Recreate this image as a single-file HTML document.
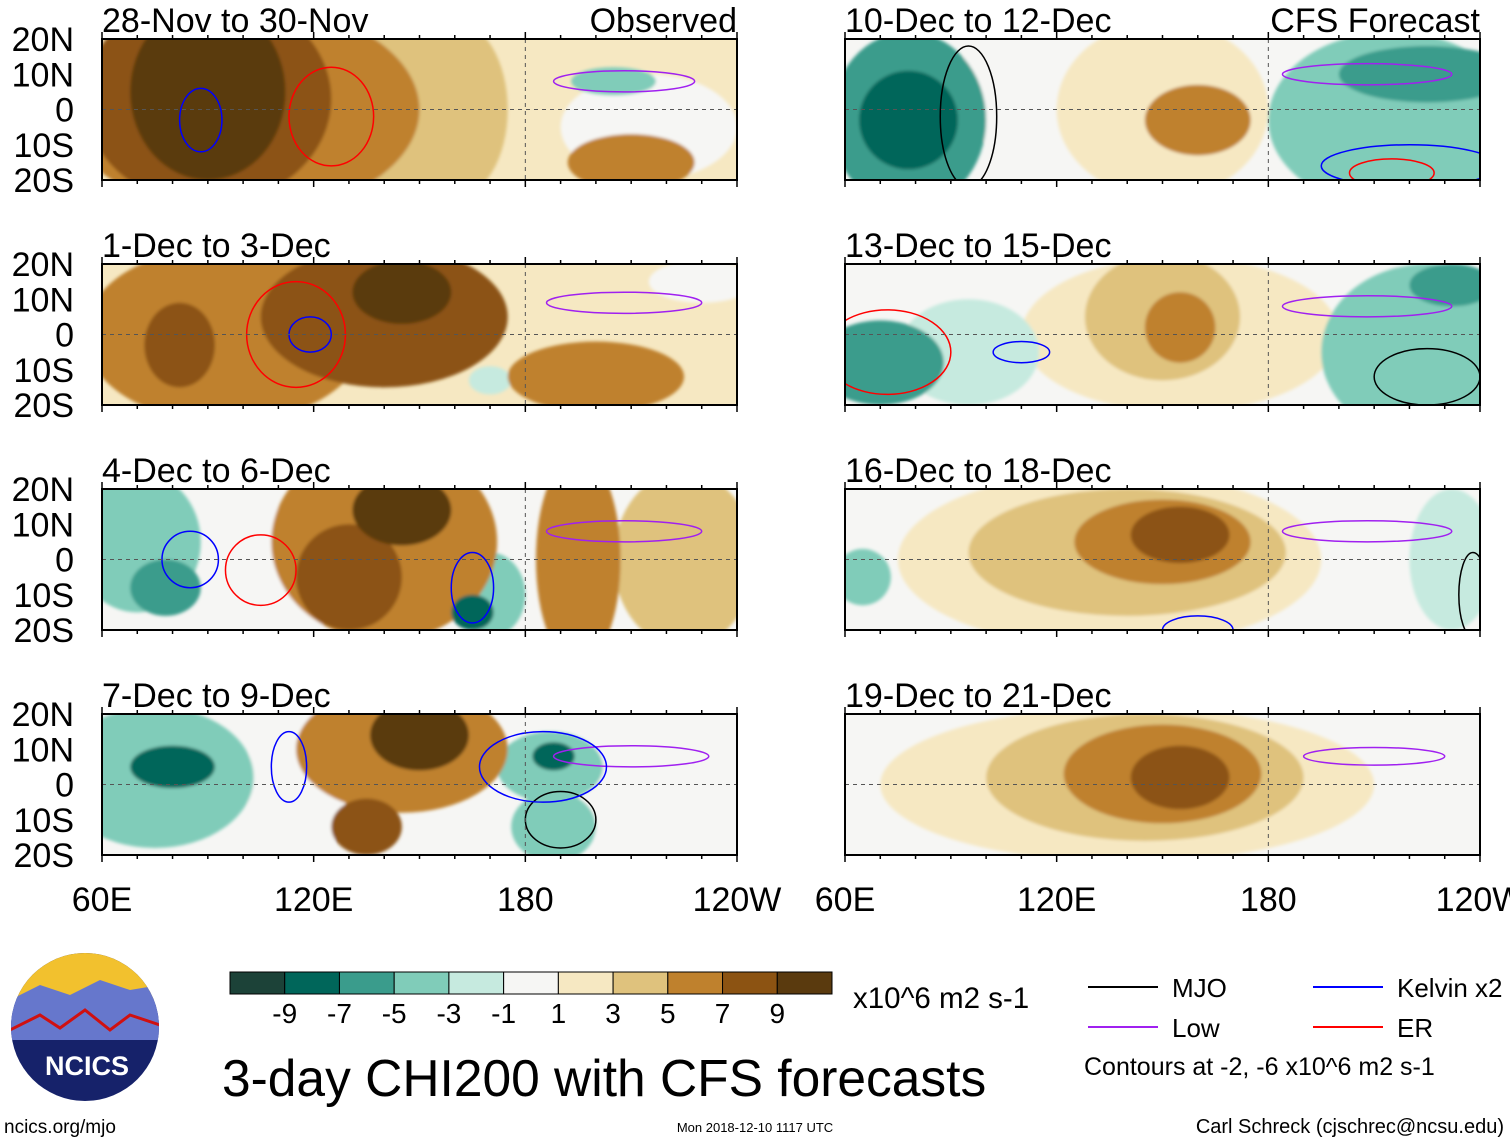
<!DOCTYPE html>
<html><head><meta charset="utf-8"><style>
body{margin:0;background:#fff;width:1510px;height:1142px;overflow:hidden;font-family:"Liberation Sans",sans-serif}
</style></head><body>
<svg id="fig" width="1510" height="1142" xmlns="http://www.w3.org/2000/svg" font-family="Liberation Sans, sans-serif"></svg>
<script>
const levels=[-9,-7,-5,-3,-1,1,3,5,7,9];
const colors=["#1c4238","#00665a","#3a9c8c","#80ccb9","#c6eadf","#f6f6f4","#f6e8c2","#dfc27d","#bf812d","#8c5312","#5a3a0e"];
const panelTitles=["28-Nov to 30-Nov","1-Dec to 3-Dec","4-Dec to 6-Dec","7-Dec to 9-Dec","10-Dec to 12-Dec","13-Dec to 15-Dec","16-Dec to 18-Dec","19-Dec to 21-Dec"];
const panelBase=[3,3,0,0,0,0,0,0];
// blobs: [lon, lat, rxDeg, ryDeg, value]
const blobs=[
[[100,0,50,30,6],[90,3,35,30,8],[90,5,22,25,10],[140,0,20,25,4],[160,0,15,25,4],[210,-15,18,8,6],[205,8,12,4,-3],[215,-5,25,15,1]],
[[95,0,40,25,6],[140,5,35,20,8],[145,12,14,9,10],[82,-3,10,12,8],[200,-12,25,10,6],[230,15,15,6,1],[170,-13,6,4,-2]],
[[70,5,18,20,-4],[78,-8,10,8,-6],[140,5,32,28,6],[145,14,14,10,10],[130,-5,15,15,8],[195,0,12,30,6],[170,-10,10,12,-4],[165,-15,6,5,-8],[225,0,20,25,4],[118,0,12,20,1]],
[[75,2,28,20,-4],[80,5,12,6,-8],[145,10,30,18,6],[150,14,14,10,10],[135,-12,10,8,8],[187,5,15,10,-4],[188,8,6,4,-8],[188,-12,12,10,-4],[115,0,14,25,1],[220,0,25,25,1]],
[[78,-3,22,25,-6],[78,-3,14,14,-8],[150,0,30,25,2],[160,-3,15,10,6],[215,-3,35,25,-4],[225,10,25,8,-6],[105,5,15,15,1]],
[[155,0,45,22,2],[150,5,22,18,4],[155,2,10,10,6],[70,-8,18,12,-6],[225,-5,30,25,-4],[232,14,12,6,-6],[95,-5,20,15,-2]],
[[135,0,60,25,2],[140,2,45,18,4],[150,5,25,12,6],[155,7,14,8,8],[65,-5,8,8,-4],[232,0,12,20,-2]],
[[140,0,70,22,2],[145,2,45,18,4],[150,3,28,14,6],[155,2,14,9,8],[205,15,5,3,1]]
];
// contours: [lon, lat, rxDeg, ryDeg, color]
const contours=[
[[208,8,20,3,"#a020f0"],[88,-3,6,9,"#0000ff"],[125,-2,12,14,"#ff0000"]],
[[208,9,22,3,"#a020f0"],[119,0,6,5,"#0000ff"],[115,0,14,15,"#ff0000"]],
[[208,8,22,3,"#a020f0"],[85,0,8,8,"#0000ff"],[105,-3,10,10,"#ff0000"],[165,-8,6,10,"#0000ff"]],
[[210,8,22,3,"#a020f0"],[113,5,5,10,"#0000ff"],[190,-10,10,8,"#000000"],[185,5,18,10,"#0000ff"]],
[[208,10,24,3,"#a020f0"],[95,-2,8,20,"#000000"],[220,-16,25,6,"#0000ff"],[215,-18,12,4,"#ff0000"]],
[[208,8,24,3,"#a020f0"],[72,-5,18,12,"#ff0000"],[110,-5,8,3,"#0000ff"],[225,-12,15,8,"#000000"]],
[[208,8,24,3,"#a020f0"],[160,-20,10,4,"#0000ff"],[238,-10,4,12,"#000000"]],
[[210,8,20,2.5,"#a020f0"]]
];
const latTicks=["20N","10N","0","10S","20S"];
const lonTicks=["60E","120E","180","120W"];
const lonVals=[60,120,180,240];

const NS="http://www.w3.org/2000/svg";
const svg=document.getElementById("fig");
function mk(t,a,p){const e=document.createElementNS(NS,t);for(const k in a)e.setAttribute(k,a[k]);(p||svg).appendChild(e);return e;}
function colorOf(v){let i=0;while(i<levels.length&&v>levels[i])i++;return colors[i];}
const PW=635,PH=141;
const defs=mk("defs",{});
const flt=mk("filter",{id:"bl",x:"-10%",y:"-10%",width:"120%",height:"120%"},defs);
mk("feGaussianBlur",{stdDeviation:"1.5"},flt);
for(let p=0;p<8;p++){
  const col=p<4?0:1,row=p%4;
  const x0=col?845:102,y0=39+row*225;
  const xs=lon=>x0+(lon-60)/180*PW, ys=lat=>y0+(20-lat)/40*PH;
  const cp=mk("clipPath",{id:"c"+p},defs);mk("rect",{x:x0,y:y0,width:PW,height:PH},cp);
  const g=mk("g",{"clip-path":"url(#c"+p+")"});
  
  
  mk("rect",{x:x0,y:y0,width:PW,height:PH,fill:colorOf(panelBase[p])},g);
  const fg=mk("g",{filter:"url(#bl)"},g);
  const bs=blobs[p].slice().sort((a,b)=>Math.abs(a[4])-Math.abs(b[4]));
  bs.forEach(b=>{const e=mk("ellipse",{cx:xs(b[0]),cy:ys(b[1]),rx:b[2]/180*PW,ry:b[3]/40*PH,fill:colorOf(b[4])},fg);
    
    });
  contours[p].forEach(c=>{const e=mk("ellipse",{cx:xs(c[0]),cy:ys(c[1]),rx:c[2]/180*PW,ry:c[3]/40*PH,fill:"none",stroke:c[4],"stroke-width":1.5},g);
    
    });
  mk("line",{x1:x0,x2:x0+PW,y1:ys(0),y2:ys(0),stroke:"#555","stroke-dasharray":"4,4","stroke-width":1},g);
  mk("line",{x1:xs(180),x2:xs(180),y1:y0,y2:y0+PH,stroke:"#555","stroke-dasharray":"4,4","stroke-width":1},g);
  const fr=mk("rect",{x:x0,y:y0,width:PW,height:PH,fill:"none",stroke:"#000","stroke-width":2});
  
  
  for(let l=60;l<=240;l+=10){const L=l%60==0?7:4;mk("line",{x1:xs(l),x2:xs(l),y1:y0+PH,y2:y0+PH+L,stroke:"#000","stroke-width":1.5});mk("line",{x1:xs(l),x2:xs(l),y1:y0,y2:y0-L,stroke:"#000","stroke-width":1.5});}
  const t=mk("text",{x:x0,y:y0-7,"font-size":34});t.textContent=panelTitles[p];
  
  
  if(row==0){const s=mk("text",{x:x0+PW,y:y0-7,"font-size":34,"text-anchor":"end"});s.textContent=col?"CFS Forecast":"Observed";
    
    }
  if(col==0){latTicks.forEach((lt,i)=>{const tt=mk("text",{x:74,y:y0+i*PH/4+12,"font-size":34,"text-anchor":"end"});tt.textContent=lt;
    
    });}
  if(row==3){lonTicks.forEach((lt,i)=>{const tt=mk("text",{x:xs(lonVals[i]),y:911,"font-size":34,"text-anchor":"middle"});tt.textContent=lt;
    
    });}
}
// colorbar
const cbw=602/11;
colors.forEach((c,i)=>{const r=mk("rect",{x:230+i*cbw,y:972,width:cbw,height:22,fill:c,stroke:"#000","stroke-width":1});
  
  });
levels.forEach((v,i)=>{const t=mk("text",{x:230+(i+1)*cbw,y:1023,"font-size":28,"text-anchor":"middle"});t.textContent=v;
  
  });
function txt(x,y,s,str,name,anchor){const t=mk("text",{x:x,y:y,"font-size":s,"text-anchor":anchor||"start"});t.textContent=str;
  
  return t;}
txt(853,1008,29.5,"x10^6 m2 s-1","colorbar-units");
txt(222,1096,51.5,"3-day CHI200 with CFS forecasts","main-title");
const leg=[[1088,987,"#000","MJO"],[1088,1027,"#a020f0","Low"],[1313,987,"#0000ff","Kelvin x2"],[1313,1027,"#ff0000","ER"]];
leg.forEach(l=>{mk("line",{x1:l[0],x2:l[0]+70,y1:l[1],y2:l[1],stroke:l[2],"stroke-width":2});txt(l[0]+84,l[1]+10,26,l[3],"legend-entry");});
txt(1084,1075,25,"Contours at -2, -6 x10^6 m2 s-1","contour-note");
txt(4,1133,19,"ncics.org/mjo","ncics-url");
txt(755,1132,13,"Mon 2018-12-10 1117 UTC","timestamp","middle");
txt(1504,1133,20,"Carl Schreck (cjschrec@ncsu.edu)","author-credit","end");
// logo
const lg=mk("g",{});


const lc=mk("clipPath",{id:"lc"},defs);mk("circle",{cx:85,cy:1027,r:74},lc);
const lgi=mk("g",{"clip-path":"url(#lc)"},lg);
mk("rect",{x:10,y:950,width:150,height:160,fill:"#16226a"},lgi);
mk("rect",{x:10,y:950,width:150,height:50,fill:"#f2c12e"},lgi);
mk("path",{d:"M10 1000 L40 985 L70 995 L100 980 L130 990 L160 985 L160 1040 L10 1040Z",fill:"#6677cc"},lgi);
mk("path",{d:"M10 1030 L40 1015 L60 1028 L85 1010 L110 1030 L130 1015 L160 1025",fill:"none",stroke:"#d01010","stroke-width":3},lgi);
const nt=mk("text",{x:87,y:1075,"font-size":27,"font-weight":"bold",fill:"#fff","text-anchor":"middle"},lg);nt.textContent="NCICS";
</script>
</body></html>
